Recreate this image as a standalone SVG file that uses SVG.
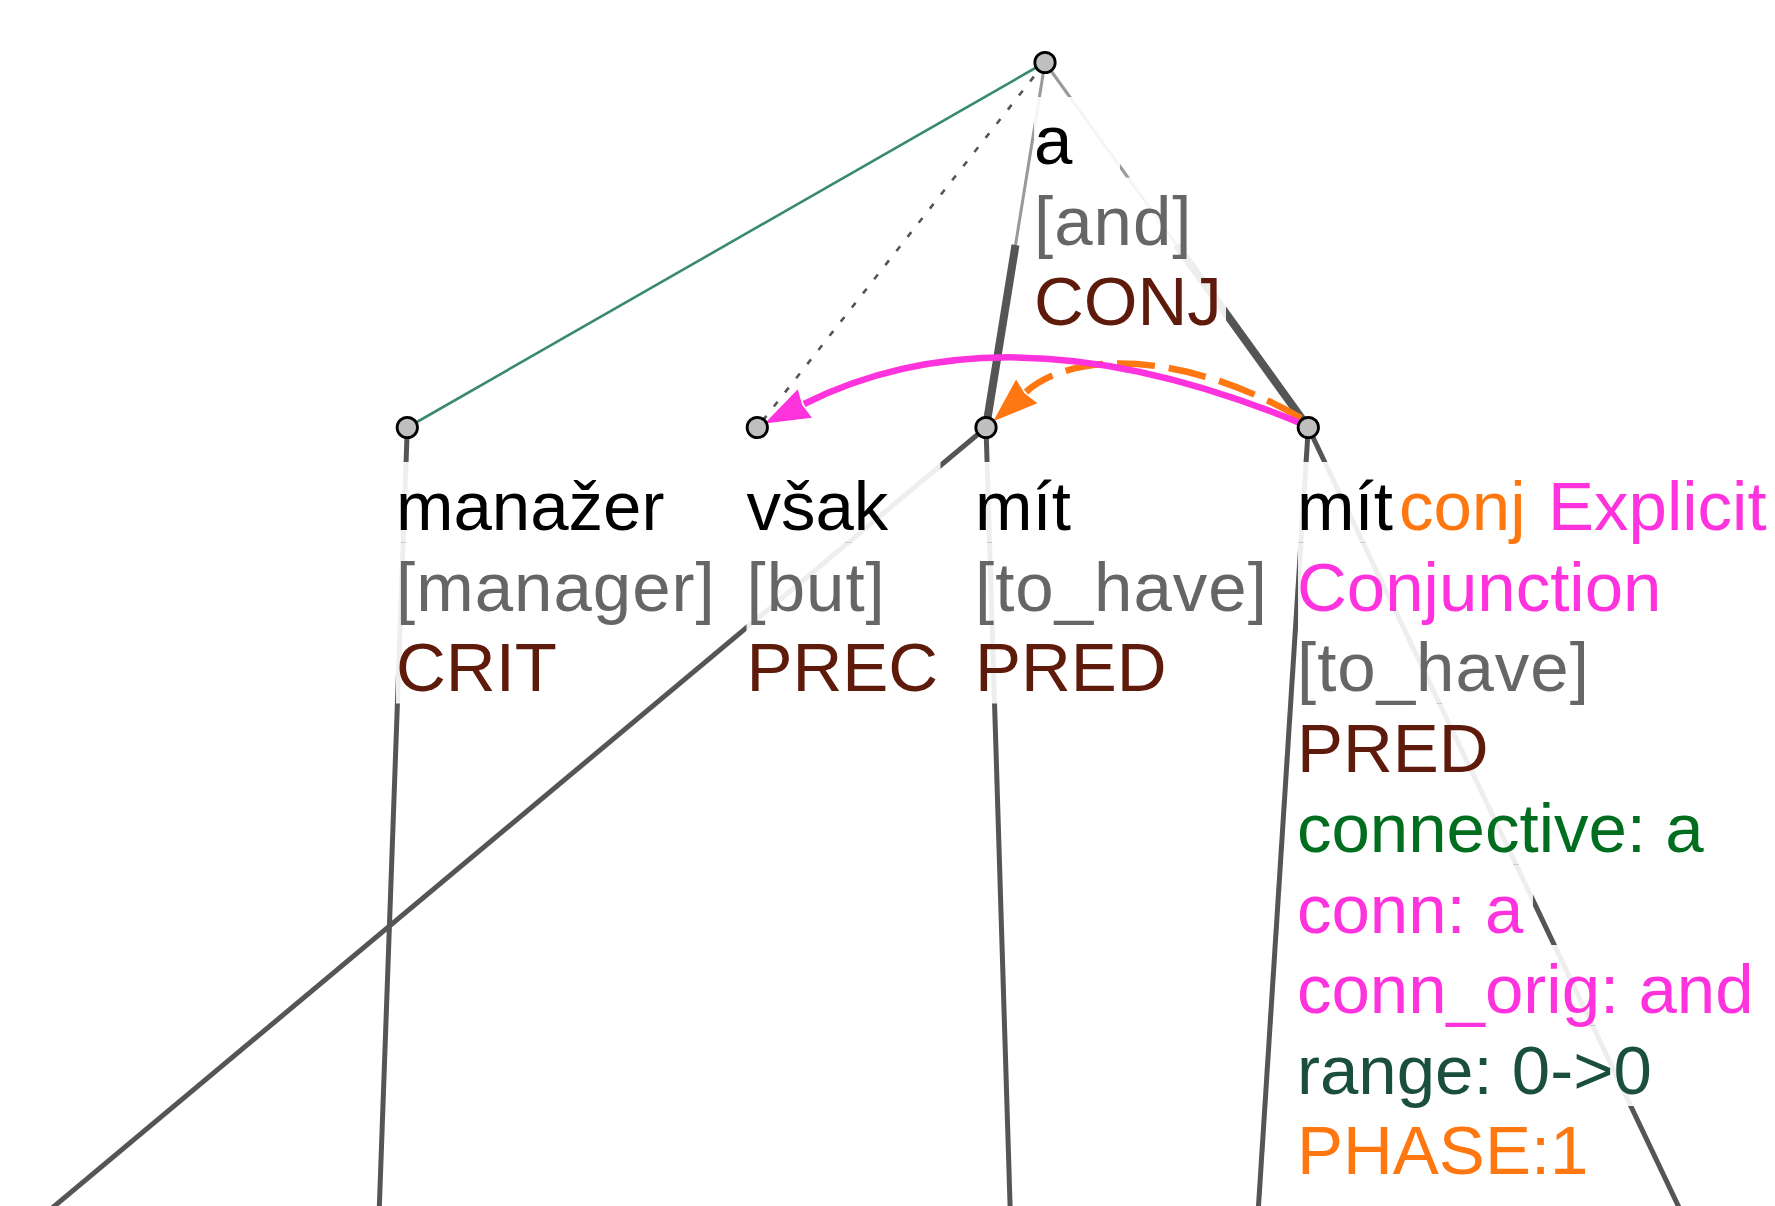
<svg xmlns="http://www.w3.org/2000/svg" width="1775" height="1206" viewBox="0 0 1775 1206">
<style>
text{font-family:"Liberation Sans",Arial,sans-serif;font-size:69px}
.w{fill:#000}.g{fill:#666;letter-spacing:1px}.f{fill:#5e1a0b}.m{fill:#ff33dd}.o{fill:#ff7711}.gr{fill:#006e1e}.rg{fill:#1a4f3c}
.bg{fill:#fff;fill-opacity:0.9}
.node{fill:#bfbfbf;stroke:#000;stroke-width:2.8}
.e{fill:none;stroke:#555;stroke-width:5}
.thin{fill:none;stroke:#999;stroke-width:3}
.thick{fill:none;stroke:#555;stroke-width:8}
</style>
<defs>
<marker id="am" markerUnits="userSpaceOnUse" orient="auto" refX="0" refY="0" markerWidth="60" markerHeight="40" viewBox="-5 -20 55 40" overflow="visible"><path d="M44,0 L-1,-16 L2,0 L-1,16 Z" fill="#ff33dd"/></marker>
<marker id="ao" markerUnits="userSpaceOnUse" orient="auto" refX="0" refY="0" markerWidth="60" markerHeight="40" viewBox="-5 -20 55 40" overflow="visible"><path d="M44,0 L-1,-16 L2,0 L-1,16 Z" fill="#ff7711"/></marker>
</defs>
<g id="connectors">
<line class="e" x1="407.3" y1="427.5" x2="376" y2="1300"/>
<line class="e" x1="986" y1="427.5" x2="-40" y2="1285"/>
<line class="e" x1="986" y1="427.5" x2="1013" y2="1300"/>
<line class="e" x1="1308.3" y1="427.5" x2="1252.5" y2="1300"/>
<line class="e" x1="1308.3" y1="427.5" x2="1723" y2="1300"/>
<line x1="1045" y1="62.5" x2="407.3" y2="427.5" stroke="#3a8a6e" stroke-width="2.6"/>
<line x1="1045" y1="62.5" x2="757.3" y2="427.5" stroke="#555" stroke-width="2.6" stroke-dasharray="6 12"/>
<line class="thin" x1="1045" y1="62.5" x2="1015.5" y2="245"/>
<line class="thick" x1="1015.5" y1="245" x2="986" y2="427.5"/>
<line class="thin" x1="1045" y1="62.5" x2="1176.6" y2="245"/>
<line class="thick" x1="1176.6" y1="245" x2="1308.3" y2="427.5"/>
</g>
<g id="n-root">
<rect class="bg" x="1034" y="97" width="86" height="80.5"/>
<rect class="bg" x="1034" y="177.5" width="162.5" height="80.5"/>
<rect class="bg" x="1034" y="258" width="192" height="80.5"/>
<text x="1034" y="164" class="w">a</text>
<text x="1034" y="244.5" class="g">[and]</text>
<text x="1034" y="325" class="f">CONJ</text>
</g>
<g id="n-manazer">
<rect class="bg" x="396" y="462" width="316" height="80.5"/>
<rect class="bg" x="396" y="542.5" width="324" height="80.5"/>
<rect class="bg" x="396" y="623" width="165" height="80.5"/>
<text x="396" y="530" class="w">manažer</text>
<text x="396" y="610.5" class="g">[manager]</text>
<text x="396" y="691" class="f">CRIT</text>
</g>
<g id="n-vsak">
<rect class="bg" x="746.5" y="462" width="194" height="80.5"/>
<rect class="bg" x="746.5" y="542.5" width="143" height="80.5"/>
<rect class="bg" x="746.5" y="623" width="196" height="80.5"/>
<text x="746.5" y="530" class="w">však</text>
<text x="746.5" y="610.5" class="g">[but]</text>
<text x="746.5" y="691" class="f">PREC</text>
</g>
<g id="n-mit1">
<rect class="bg" x="975" y="462" width="144" height="80.5"/>
<rect class="bg" x="975" y="542.5" width="297" height="80.5"/>
<rect class="bg" x="975" y="623" width="196" height="80.5"/>
<text x="975" y="530" class="w">mít</text>
<text x="975" y="610.5" class="g">[to_have]</text>
<text x="975" y="691" class="f">PRED</text>
</g>
<g id="n-mit2">
<rect class="bg" x="1298" y="462" width="477" height="80.5"/>
<rect class="bg" x="1298" y="542.5" width="367" height="80.5"/>
<rect class="bg" x="1298" y="623" width="296" height="80.5"/>
<rect class="bg" x="1298" y="703.5" width="195" height="80.5"/>
<rect class="bg" x="1298" y="784" width="410" height="80.5"/>
<rect class="bg" x="1298" y="864.5" width="235" height="80.5"/>
<rect class="bg" x="1298" y="945" width="459" height="80.5"/>
<rect class="bg" x="1298" y="1025.5" width="358" height="80.5"/>
<rect class="bg" x="1298" y="1106" width="294" height="80.5"/>
<text x="1297" y="530"><tspan class="w">mít</tspan><tspan x="1399" class="o">conj</tspan><tspan x="1548" class="m">Explicit</tspan></text>
<text x="1297" y="610.5" class="m">Conjunction</text>
<text x="1297" y="691" class="g">[to_have]</text>
<text x="1297" y="771.5" class="f">PRED</text>
<text x="1297" y="852" class="gr">connective: a</text>
<text x="1297" y="932.5" class="m">conn: a</text>
<text x="1297" y="1013" class="m">conn_orig: and</text>
<text x="1297" y="1093.5" class="rg">range: 0-&gt;0</text>
<text x="1297" y="1174" class="o">PHASE:1</text>
</g>
<g id="arcs">
<path d="M1301,418 C1179.5,348.6 1070.8,351.9 1026,392" fill="none" stroke="#ff7711" stroke-width="6.5" stroke-dasharray="38 14" marker-end="url(#ao)"/>
<path d="M1300,423 Q1008.7,302 804,404" fill="none" stroke="#ff33dd" stroke-width="6.5" marker-end="url(#am)"/>
</g>
<g id="nodes">
<circle class="node" cx="1045" cy="62.5" r="10.2"/>
<circle class="node" cx="407.3" cy="427.5" r="10.2"/>
<circle class="node" cx="757.3" cy="427.5" r="10.2"/>
<circle class="node" cx="986" cy="427.5" r="10.2"/>
<circle class="node" cx="1308.3" cy="427.5" r="10.2"/>
</g>
</svg>
